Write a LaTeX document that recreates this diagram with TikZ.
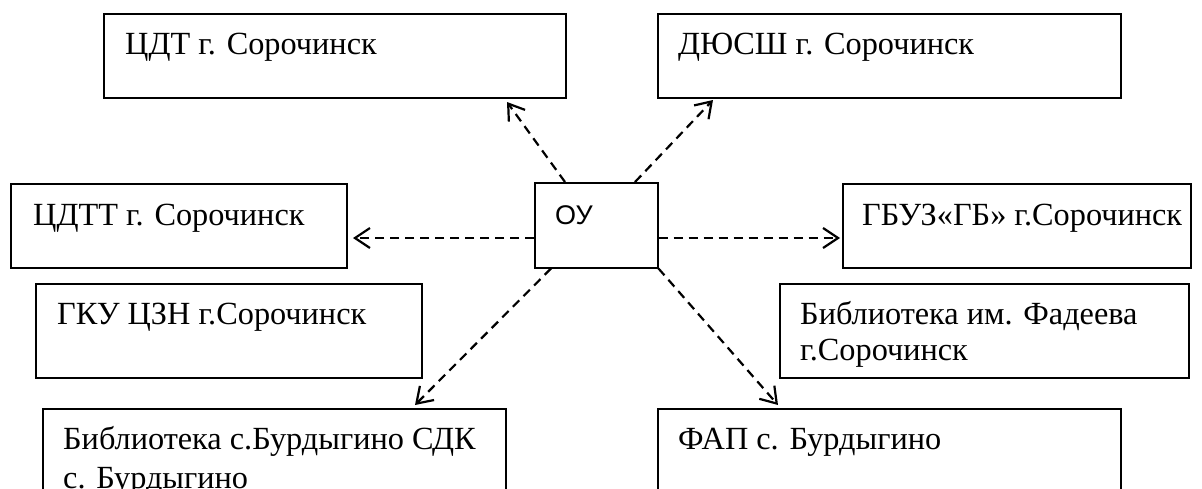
\documentclass[tikz,border=0pt]{standalone}
\usepackage{fontspec}
\setmainfont{Liberation Serif}
\newfontfamily\sansf{Liberation Sans}
\usetikzlibrary{arrows.meta,calc}
\begin{document}
\begin{tikzpicture}[x=1pt,y=-1pt,
  box/.style={draw=black,line width=1.5pt,rectangle,anchor=north west,inner sep=0pt,fill=white},
  lbl/.style={font=\fontsize{32.3}{38}\selectfont,inner sep=0pt,anchor=base west},
  conn/.style={line width=2.2pt,dash pattern=on 9pt off 6pt,-{Straight Barb[length=15pt,width=20pt]}}]
\useasboundingbox (0,0) rectangle (1202,488);
\clip (0,0) rectangle (1202,488);
% boxes
\node[box,minimum width=462pt,minimum height=84pt] (cdt) at (103,13) {};
\node[box,minimum width=463pt,minimum height=84pt] (dyussh) at (657,13) {};
\node[box,minimum width=336pt,minimum height=84pt] (cdtt) at (10,183) {};
\node[box,minimum width=123pt,minimum height=85pt] (ou) at (534,182) {};
\node[box,minimum width=348pt,minimum height=84pt] (gbuz) at (842,183) {};
\node[box,minimum width=386pt,minimum height=94pt] (gku) at (35,283) {};
\node[box,minimum width=409pt,minimum height=94pt] (fad) at (779,283) {};
\node[box,minimum width=463pt,minimum height=120pt] (bib) at (42,408) {};
\node[box,minimum width=463pt,minimum height=120pt] (fap) at (657,408) {};
% texts
\node[lbl] (cdt-t) at ($(cdt.north west)+(22,41)$) {ЦДТ г. Сорочинск};
\node[lbl] (dyussh-t) at ($(dyussh.north west)+(21,41)$) {ДЮСШ г. Сорочинск};
\node[lbl] (cdtt-t) at ($(cdtt.north west)+(23,42)$) {ЦДТТ г. Сорочинск};
\node[lbl,font=\sansf\fontsize{27}{30}\selectfont] (ou-t) at ($(ou.north west)+(21,42)$) {ОУ};
\node[lbl] (gbuz-t) at ($(gbuz.north west)+(20,42)$) {ГБУЗ«ГБ» г.Сорочинск};
\node[lbl] (gku-t) at ($(gku.north west)+(22,41)$) {ГКУ ЦЗН г.Сорочинск};
\node[lbl] (fad-t1) at ($(fad.north west)+(21,41)$) {Библиотека им. Фадеева};
\node[lbl] (fad-t2) at ($(fad.north west)+(21,77)$) {г.Сорочинск};
\node[lbl] (bib-t1) at ($(bib.north west)+(21,41)$) {Библиотека с.Бурдыгино СДК};
\node[lbl] (bib-t2) at ($(bib.north west)+(21,80)$) {с. Бурдыгино};
\node[lbl] (fap-t) at ($(fap.north west)+(21,41)$) {ФАП с. Бурдыгино};
% free arrow ends
\coordinate (t1) at (507,102);
\coordinate (t2) at (713,100);
\coordinate (t3) at (353,238);
\coordinate (t4) at (840,238);
\coordinate (t5) at (415,405);
\coordinate (t6) at (778,405);
% connectors
\draw[conn] ($(ou.north west)+(31,0)$) -- (t1);
\draw[conn] ($(ou.north west)+(101,0)$) -- (t2);
\draw[conn] (ou.west |- t3) -- (t3);
\draw[conn] (ou.east |- t4) -- (t4);
\draw[conn] ($(ou.south west)+(17,0)$) -- (t5);
\draw[conn] (ou.south east) -- (t6);
\end{tikzpicture}
\end{document}
